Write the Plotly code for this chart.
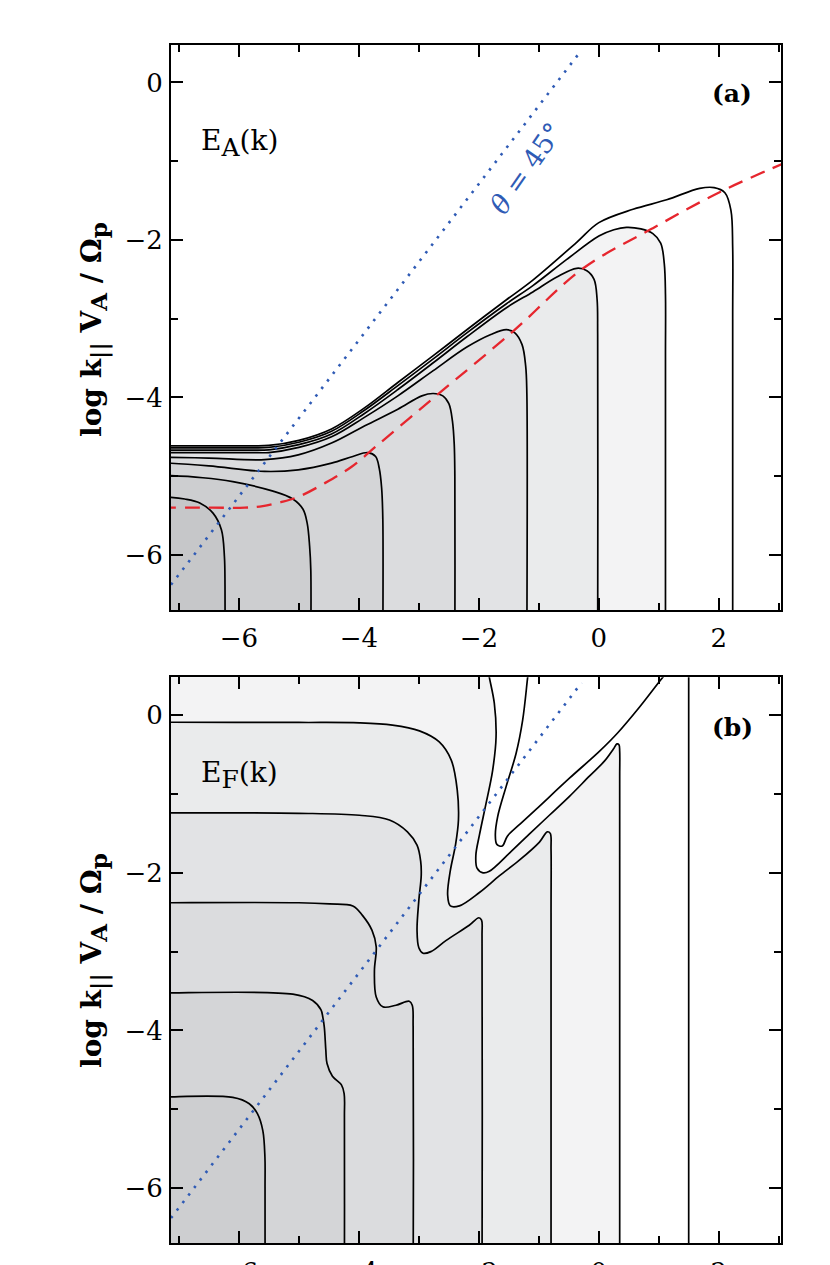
import plotly.graph_objects as go

# ---------------- axes ----------------
X_RANGE = [-7.13, 3.035]
Y_RANGE = [-6.70, 0.48]

# fill greys for the regions inside contour level 1 .. 8
GRAYS = ["#ffffff", "#f3f3f4", "#eaebec", "#e2e3e5", "#dbdcde", "#d4d5d7", "#cdced0", "#c6c7c9"]

# ---------------- panel (a): E_A(k) contour lines (outer -> inner) ----------------
A1_X = [-7.6, -7.3, -6.5, -5.8, -5.5, -5.0, -4.455, -3.9, -3.35, -2.76, -2.2, -1.54, -1.1, -0.37, 0.0,
        0.57, 1.13, 1.68, 1.92, 2.1, 2.2, 2.23, 2.23, 2.23, 2.23]
A1_Y = [-4.615, -4.615, -4.615, -4.615, -4.61, -4.545, -4.40, -4.13, -3.81, -3.47, -3.14, -2.76, -2.51, -2.03, -1.78,
        -1.61, -1.49, -1.345, -1.335, -1.40, -1.62, -2.1, -3.0, -7.3, -7.6]

A2_X = [-7.6, -7.3, -6.5, -5.8, -5.5, -5.0, -4.455, -3.9, -3.35, -2.76, -2.2, -1.54, -1.1, -0.54, 0.0,
        0.25, 0.46, 0.7, 0.9, 1.03, 1.09, 1.11, 1.11, 1.11, 1.11]
A2_Y = [-4.64, -4.64, -4.64, -4.64, -4.635, -4.57, -4.43, -4.16, -3.85, -3.51, -3.18, -2.81, -2.58, -2.25, -1.95,
        -1.87, -1.84, -1.86, -1.92, -2.04, -2.3, -2.7, -3.5, -7.3, -7.6]

A3_X = [-7.6, -7.3, -6.5, -5.8, -5.5, -5.0, -4.455, -3.9, -3.35, -2.76, -2.2, -1.54, -1.1, -0.7, -0.37,
        -0.2, -0.08, -0.03, -0.02, -0.02, -0.02]
A3_Y = [-4.67, -4.67, -4.67, -4.67, -4.665, -4.60, -4.465, -4.20, -3.90, -3.56, -3.23, -2.86, -2.66, -2.47, -2.36,
        -2.39, -2.5, -2.75, -3.2, -7.3, -7.6]

A4_X = [-7.6, -7.3, -6.5, -5.8, -5.5, -5.0, -4.455, -3.9, -3.35, -2.76, -2.2, -1.8, -1.54, -1.40, -1.28,
        -1.22, -1.2, -1.2, -1.2]
A4_Y = [-4.70, -4.70, -4.70, -4.70, -4.70, -4.635, -4.50, -4.25, -3.98, -3.66, -3.36, -3.20, -3.14, -3.18, -3.33,
        -3.6, -3.95, -7.3, -7.6]

A5_X = [-7.6, -7.3, -6.5, -5.57, -5.01, -4.455, -3.9, -3.35, -2.95, -2.76, -2.6, -2.5, -2.44, -2.41, -2.4, -2.4, -2.4]
A5_Y = [-4.76, -4.76, -4.77, -4.79, -4.73, -4.58, -4.36, -4.15, -3.98, -3.95, -3.98, -4.08, -4.3, -4.6, -5.0, -7.3, -7.6]

A6_X = [-7.6, -7.3, -6.5, -5.57, -5.01, -4.455, -4.1, -3.85, -3.72, -3.66, -3.62, -3.6, -3.6, -3.6]
A6_Y = [-4.83, -4.83, -4.87, -4.94, -4.92, -4.835, -4.75, -4.70, -4.75, -4.9, -5.15, -5.55, -7.3, -7.6]

A7_X = [-7.6, -7.3, -6.6, -6.1, -5.43, -5.1, -4.93, -4.86, -4.82, -4.8, -4.8, -4.8]
A7_Y = [-4.99, -4.99, -5.02, -5.07, -5.19, -5.29, -5.42, -5.6, -5.89, -6.2, -7.3, -7.6]

A8_X = [-7.6, -7.3, -6.9, -6.65, -6.43, -6.29, -6.24, -6.23, -6.23, -6.23]
A8_Y = [-5.26, -5.26, -5.29, -5.34, -5.47, -5.68, -6.02, -6.4, -7.3, -7.6]

# red dashed curve (panel a)
RED_X = [-7.3, -6.5, -5.9, -5.6, -5.3, -5.0, -4.57, -4.12, -3.68, -3.15, -2.65, -1.43, -0.26, 0.9, 2.02, 3.1]
RED_Y = [-5.40, -5.40, -5.40, -5.38, -5.33, -5.26, -5.09, -4.88, -4.60, -4.26, -3.94, -3.16, -2.36, -1.85, -1.39, -1.02]

# theta = 45 degree dotted line (both panels)
BLUE_X = [-7.13, -0.29]
BLUE_Y = [-6.38, 0.41]

# ---------------- panel (b): E_F(k) contour lines ----------------
B1V_X = [1.497, 1.497]
B1V_Y = [0.95, -7.6]

B1W_X = [-1.153, -1.187, -1.27, -1.38, -1.547, -1.687, -1.725, -1.70, -1.61, -1.525, -1.325, -1.047, -0.49,
         0.008, 0.308, 0.675, 1.063, 1.31]
B1W_Y = [0.70, 0.478, -0.063, -0.486, -0.91, -1.29, -1.52, -1.64, -1.66, -1.535, -1.39, -1.195, -0.80,
         -0.46, -0.23, 0.10, 0.478, 0.70]

B2_X = [-1.93, -1.88, -1.825, -1.742, -1.713, -1.77, -1.88, -1.99, -2.05, -2.03, -1.93, -1.825, -1.49, -1.16,
        -0.825, -0.49, -0.158, 0.092, 0.242, 0.30, 0.335, 0.347, 0.347, 0.347, 0.347]
B2_Y = [0.95, 0.70, 0.478, 0.148, -0.275, -0.70, -1.12, -1.52, -1.78, -1.94, -2.00, -1.98, -1.75, -1.51,
        -1.27, -1.03, -0.774, -0.584, -0.43, -0.365, -0.375, -0.46, -0.8, -7.3, -7.6]

B3_X = [-7.6, -7.3, -5.0, -3.99, -3.44, -2.99, -2.66, -2.46, -2.36, -2.34, -2.39, -2.475, -2.52, -2.475, -2.325,
        -1.99, -1.66, -1.325, -0.99, -0.86, -0.81, -0.797, -0.797, -0.797, -0.797]
B3_Y = [-0.09, -0.09, -0.093, -0.098, -0.127, -0.20, -0.34, -0.57, -0.95, -1.33, -1.65, -1.97, -2.28, -2.42, -2.42,
        -2.25, -2.04, -1.84, -1.61, -1.48, -1.50, -1.70, -2.5, -7.3, -7.6]

B4_X = [-7.6, -7.3, -5.0, -3.99, -3.49, -3.19, -3.03, -2.97, -2.96, -3.0, -3.03, -3.0, -2.93, -2.8, -2.55,
        -2.16, -2.0, -1.955, -1.947, -1.947, -1.947]
B4_Y = [-1.24, -1.24, -1.245, -1.27, -1.33, -1.48, -1.65, -1.85, -2.03, -2.35, -2.73, -2.95, -3.02, -3.0, -2.86,
        -2.665, -2.57, -2.60, -2.8, -7.3, -7.6]

B5_X = [-7.6, -7.3, -5.0, -4.49, -4.10, -3.94, -3.78, -3.71, -3.74, -3.71, -3.60, -3.38, -3.16, -3.11, -3.095,
        -3.095, -3.095]
B5_Y = [-2.38, -2.38, -2.38, -2.395, -2.42, -2.54, -2.73, -2.94, -3.24, -3.575, -3.70, -3.68, -3.63, -3.68, -3.95,
        -7.3, -7.6]

B6_X = [-7.6, -7.3, -5.10, -4.77, -4.63, -4.60, -4.575, -4.55, -4.53, -4.44, -4.29, -4.245, -4.24, -4.24, -4.24]
B6_Y = [-3.525, -3.525, -3.54, -3.62, -3.74, -3.83, -3.96, -4.25, -4.42, -4.58, -4.69, -4.80, -5.1, -7.3, -7.6]

B7_X = [-7.6, -7.3, -6.10, -5.825, -5.69, -5.60, -5.565, -5.563, -5.563, -5.563]
B7_Y = [-4.845, -4.845, -4.85, -4.93, -5.055, -5.27, -5.605, -6.0, -7.3, -7.6]

OUT_LO = -7.6   # closing corner outside the plotted range
OUT_HI = 0.95

A_LEVELS = [(A1_X, A1_Y), (A2_X, A2_Y), (A3_X, A3_Y), (A4_X, A4_Y),
            (A5_X, A5_Y), (A6_X, A6_Y), (A7_X, A7_Y), (A8_X, A8_Y)]
B_LEVELS = [(B2_X, B2_Y, 1), (B3_X, B3_Y, 2), (B4_X, B4_Y, 3), (B5_X, B5_Y, 4), (B6_X, B6_Y, 5), (B7_X, B7_Y, 6)]

fig = go.Figure()
LINE = dict(color="black", width=1.7, shape="spline", smoothing=1)
BLUE_LINE = dict(color="#2f5bb5", width=2.6, dash="2.5px,7px")


def fill_trace(xs, ys, color, xa, ya):
    return go.Scatter(x=xs, y=ys, mode="lines", fill="toself", fillcolor=color,
                      line=dict(width=0, shape="spline", smoothing=1, color=color),
                      xaxis=xa, yaxis=ya, hoverinfo="skip", showlegend=False)


def line_trace(xs, ys, xa, ya, line=LINE):
    return go.Scatter(x=xs, y=ys, mode="lines", line=line, xaxis=xa, yaxis=ya,
                      hoverinfo="skip", showlegend=False)


# panel (a) fills and lines
for i, (xs, ys) in enumerate(A_LEVELS):
    fig.add_trace(fill_trace(list(xs) + [OUT_LO], list(ys) + [OUT_LO], GRAYS[i], "x", "y"))
for xs, ys in A_LEVELS:
    fig.add_trace(line_trace(xs, ys, "x", "y"))
fig.add_trace(line_trace(RED_X, RED_Y, "x", "y",
                         dict(color="#e6262e", width=2.3, dash="15px,9px", shape="spline", smoothing=1)))
fig.add_trace(line_trace(BLUE_X, BLUE_Y, "x", "y", BLUE_LINE))

# panel (b) fills and lines
for xs, ys, k in B_LEVELS:
    if xs is B2_X:
        fx = list(xs) + [OUT_LO, OUT_LO]
        fy = list(ys) + [OUT_LO, OUT_HI]
    else:
        fx = list(xs) + [OUT_LO]
        fy = list(ys) + [OUT_LO]
    fig.add_trace(fill_trace(fx, fy, GRAYS[k], "x2", "y2"))
fig.add_trace(line_trace(B1V_X, B1V_Y, "x2", "y2", dict(color="black", width=1.7)))
fig.add_trace(line_trace(B1W_X, B1W_Y, "x2", "y2"))
for xs, ys, k in B_LEVELS:
    fig.add_trace(line_trace(xs, ys, "x2", "y2"))
fig.add_trace(line_trace(BLUE_X, BLUE_Y, "x2", "y2", BLUE_LINE))

TICKFONT = dict(family="DejaVu Serif", size=26, color="black")
XDOM = [171 / 830, 781 / 830]
YDOM_A = [1 - 610 / 1265, 1 - 44.7 / 1265]
YDOM_B = [1 - 1243.3 / 1265, 1 - 677.3 / 1265]


def axis(dom, rng, anchor, standoff):
    return dict(domain=dom, range=rng, anchor=anchor, showline=True, linecolor="black", linewidth=2,
                mirror="ticks", ticks="inside", ticklen=12, tickwidth=1.6, tickcolor="black",
                tick0=0, dtick=2, showgrid=False, zeroline=False, tickfont=TICKFONT,
                ticklabelstandoff=standoff, automargin=False,
                minor=dict(ticks="inside", ticklen=7, tickwidth=1.6, tickcolor="black",
                           tick0=0, dtick=1, showgrid=False))


fig.update_layout(
    width=830, height=1265,
    margin=dict(l=0, r=0, t=0, b=0),
    paper_bgcolor="white", plot_bgcolor="white",
    showlegend=False,
    xaxis=axis(XDOM, X_RANGE, "y", 4),
    yaxis=axis(YDOM_A, Y_RANGE, "x", 1),
    xaxis2=axis(XDOM, X_RANGE, "y2", 4),
    yaxis2=axis(YDOM_B, Y_RANGE, "x2", 1),
)

LBL = dict(family="DejaVu Serif", size=28, color="black")
BOLD = dict(family="DejaVu Serif", size=25, color="black")
SUB = '<sub><span style="font-size:25px">{}</span></sub>'
YSUB = '<sub><span style="font-size:23px">{}</span></sub>'
YT = "<b>log k" + YSUB.format("||") + " V" + YSUB.format("A") + " / Ω" + YSUB.format("p") + "</b>"
YFONT = dict(family="DejaVu Serif", size=28, color="black")
ann = [
    dict(x=199 / 830, y=1 - 143 / 1265, xanchor="left", yanchor="middle", text="E" + SUB.format("A") + "(k)", font=LBL),
    dict(x=199 / 830, y=1 - 775 / 1265, xanchor="left", yanchor="middle", text="E" + SUB.format("F") + "(k)", font=LBL),
    dict(x=732 / 830, y=1 - 93 / 1265, xanchor="center", yanchor="middle", text="<b>(a)</b>", font=BOLD),
    dict(x=732 / 830, y=1 - 727 / 1265, xanchor="center", yanchor="middle", text="<b>(b)</b>", font=BOLD),
    dict(x=526 / 830, y=1 - 168 / 1265, xanchor="center", yanchor="middle", text="<i>θ</i> = 45°",
         textangle=-55, font=dict(family="DejaVu Serif", size=27, color="#2f5bb5")),
    dict(x=94 / 830, y=1 - 330 / 1265, xanchor="center", yanchor="middle", text=YT, textangle=-90, font=YFONT),
    dict(x=94 / 830, y=1 - 961 / 1265, xanchor="center", yanchor="middle", text=YT, textangle=-90, font=YFONT),
]
for a in ann:
    fig.add_annotation(xref="paper", yref="paper", showarrow=False, **a)

fig.write_html("out.html", config={"displayModeBar": False},
               post_script="document.body.style.margin='0px';")
